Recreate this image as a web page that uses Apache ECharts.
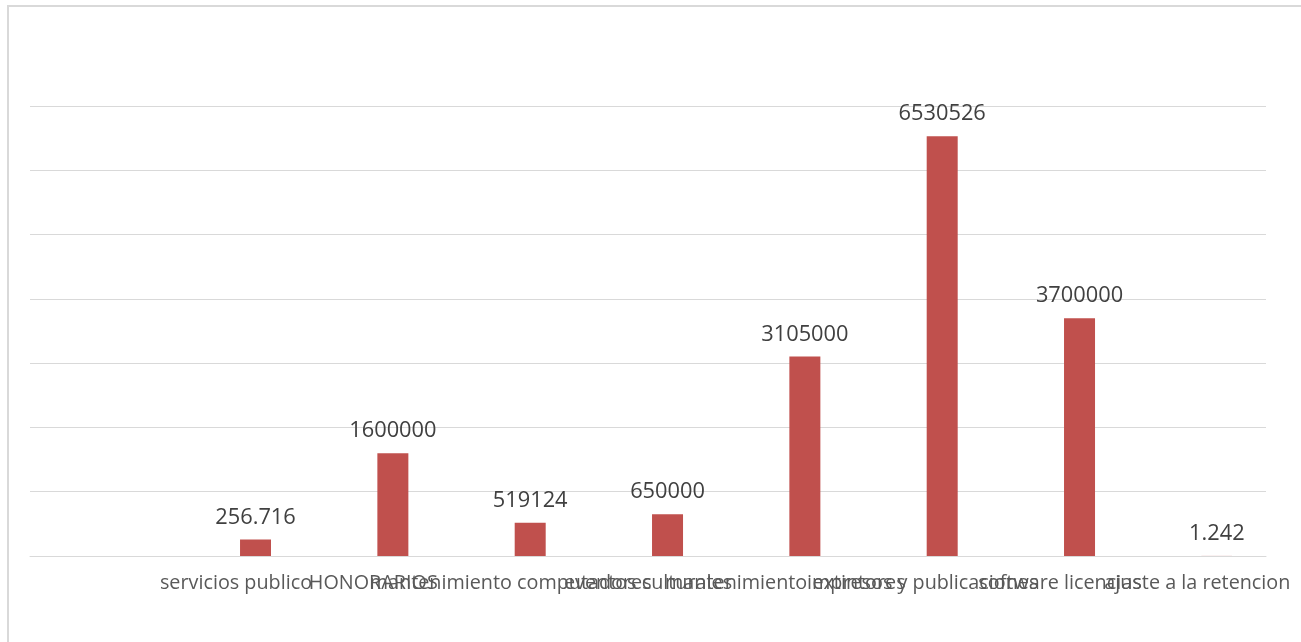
<!DOCTYPE html>
<html>
<head>
<meta charset="utf-8">
<script src="https://cdn.jsdelivr.net/npm/echarts@6/dist/echarts.min.js"></script>
<style>
html,body{margin:0;padding:0;background:#fff;}
#chart{width:1301px;height:642px;}
</style>
</head>
<body>
<div id="chart"></div>
<script>
const categories = ["", "servicios publico", "HONORARIOS", "mantenimiento computadores", "eventos culturales", "mantenimiento extintores", "impresos y publicaciones", "software licencias", "ajuste a la retencion"];
const values = [null, 256716, 1600000, 519124, 650000, 3105000, 6530526, 3700000, 1242];
const valueLabels = ["", "256.716", "1600000", "519124", "650000", "3105000", "6530526", "3700000", "1.242"];
const emptySeries = [null, null, null, null, null, null, null, null, null];

const FONT = "'Open Sans', sans-serif";
const chart = echarts.init(document.getElementById('chart'), null, {renderer: 'canvas'});
chart.setOption({
  backgroundColor: '#ffffff',
  animation: false,
  graphic: [{
    type: 'rect',
    shape: {x: 8, y: 6, width: 1320, height: 660},
    style: {fill: 'none', stroke: '#d9d9d9', lineWidth: 2},
    silent: true
  }],
  grid: {left: 30, right: 35, top: 106, bottom: 86, containLabel: false},
  xAxis: {
    type: 'category',
    data: categories,
    axisLine: {show: true, lineStyle: {color: '#d9d9d9', width: 1}},
    axisTick: {show: false},
    axisLabel: {interval: 0, color: '#595959', fontSize: 19.8, fontFamily: FONT, margin: 17, hideOverlap: false}
  },
  yAxis: {
    type: 'value',
    min: 0,
    max: 7000000,
    interval: 1000000,
    axisLine: {show: false},
    axisTick: {show: false},
    axisLabel: {show: false},
    splitLine: {lineStyle: {color: '#d9d9d9', width: 1}}
  },
  series: [
    {type: 'bar', data: emptySeries, barWidth: 31, barGap: '26%', itemStyle: {color: '#4f81bd'}},
    {
      type: 'bar',
      data: values,
      barWidth: 31,
      barGap: '26%',
      itemStyle: {color: '#c0504d'},
      label: {
        show: true,
        position: 'top',
        distance: 11,
        color: '#404040',
        fontSize: 21.8,
        fontFamily: FONT,
        formatter: p => valueLabels[p.dataIndex]
      }
    }
  ]
});
</script>
</body>
</html>
